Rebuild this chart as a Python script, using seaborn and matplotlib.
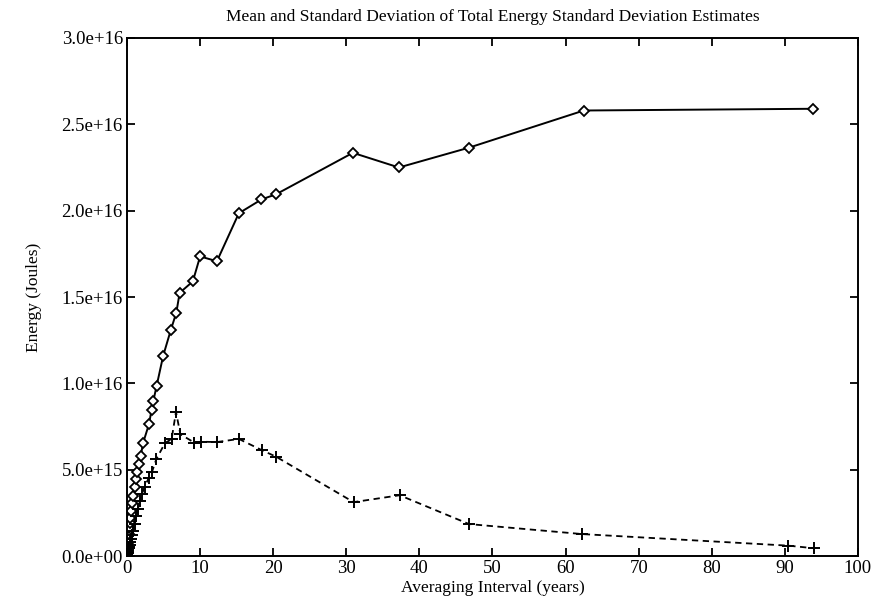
import numpy as np
import pandas as pd
import matplotlib
matplotlib.use("Agg")
import matplotlib.pyplot as plt
import seaborn as sns
from matplotlib.ticker import FuncFormatter

title = "Mean and Standard Deviation of Total Energy Standard Deviation Estimates"
xlabel = "Averaging Interval (years)"
ylabel = "Energy (Joules)"

# Mean series (solid, diamonds): averaging interval (years), energy (1e15 J)
mean_x = [0.03, 0.06, 0.10, 0.15, 0.20, 0.26, 0.32, 0.38, 0.45, 0.56, 0.68, 0.86,
          1.08, 1.27, 1.42, 1.65, 1.88, 2.2, 3.0, 3.35, 3.6, 4.05, 4.95, 6.0,
          6.75, 7.2, 9.0, 10.0, 12.3, 15.3, 18.4, 20.4, 30.9, 37.2, 46.8, 62.5, 93.8]
mean_y = [0.1, 0.3, 0.5, 0.75, 1.0, 1.3, 1.6, 1.9, 2.2, 2.6, 3.05, 3.5,
          4.0, 4.45, 4.85, 5.3, 5.8, 6.55, 7.63, 8.44, 8.98, 9.85, 11.6, 13.1,
          14.1, 15.24, 15.9, 17.35, 17.07, 19.85, 20.65, 20.95, 23.35, 22.5, 23.65, 25.8, 25.9]

# Standard deviation series (dashed, plus markers)
sd_x = [0.03, 0.06, 0.10, 0.15, 0.20, 0.26, 0.32, 0.38, 0.45, 0.56, 0.68, 0.82,
        1.05, 1.27, 1.5, 1.73, 2.04, 2.4, 2.95, 3.4, 4.0, 5.2, 6.1, 6.7,
        7.3, 9.2, 10.1, 12.3, 15.3, 18.5, 20.4, 31.0, 37.3, 46.8, 62.3, 90.5, 94.0]
sd_y = [0.03, 0.08, 0.15, 0.25, 0.35, 0.45, 0.55, 0.65, 0.8, 1.0, 1.2, 1.46,
        1.85, 2.31, 2.72, 3.2, 3.58, 4.0, 4.5, 4.85, 5.6, 6.55, 6.76, 8.35,
        7.05, 6.57, 6.62, 6.6, 6.78, 6.12, 5.75, 3.12, 3.52, 1.85, 1.27, 0.6, 0.45]

x_ticks = [0, 10, 20, 30, 40, 50, 60, 70, 80, 90, 100]
y_ticks = [0.0, 5e15, 1e16, 1.5e16, 2e16, 2.5e16, 3e16]

sns.set_theme(style="ticks")
plt.rcParams['font.family'] = ['Liberation Serif', 'DejaVu Serif']
plt.rcParams['text.color'] = 'black'
plt.rcParams['axes.labelcolor'] = 'black'

mean_df = pd.DataFrame({"x": mean_x, "y": np.array(mean_y) * 1e15})
sd_df = pd.DataFrame({"x": sd_x, "y": np.array(sd_y) * 1e15})

fig = plt.figure(figsize=(8.79, 6.0), dpi=100)
ax = fig.add_axes([0.1445, 0.0733, 0.8315, 0.8634])

sns.lineplot(data=mean_df, x="x", y="y", ax=ax, sort=False, color="black",
             linewidth=1.4, marker="D", markersize=5.5, markerfacecolor="white",
             markeredgecolor="black", markeredgewidth=1.3)
sns.lineplot(data=sd_df, x="x", y="y", ax=ax, sort=False, color="black",
             linewidth=1.3, linestyle=(0, (3.5, 2.5)), marker="+", markersize=9,
             markeredgewidth=1.4, markeredgecolor="black")

ax.set_xlim(0, 100)
ax.set_ylim(0, 3e16)
ax.set_xticks(x_ticks)
ax.set_yticks(y_ticks)
ax.yaxis.set_major_formatter(FuncFormatter(lambda v, p: f"{v:.1e}"))
ax.tick_params(direction="in", length=6, width=1.3, top=True, right=True,
               labelsize=13.5, colors="black", labelcolor="black", pad=3)
for s in ax.spines.values():
    s.set_linewidth(1.4)
    s.set_color("black")

ax.set_title(title, fontsize=12.5, pad=12, color="black")
ax.set_xlabel(xlabel, fontsize=12.5, labelpad=2, color="black")
ax.set_ylabel(ylabel, fontsize=12.5, labelpad=14, color="black")

fig.savefig("out.png", dpi=100)
